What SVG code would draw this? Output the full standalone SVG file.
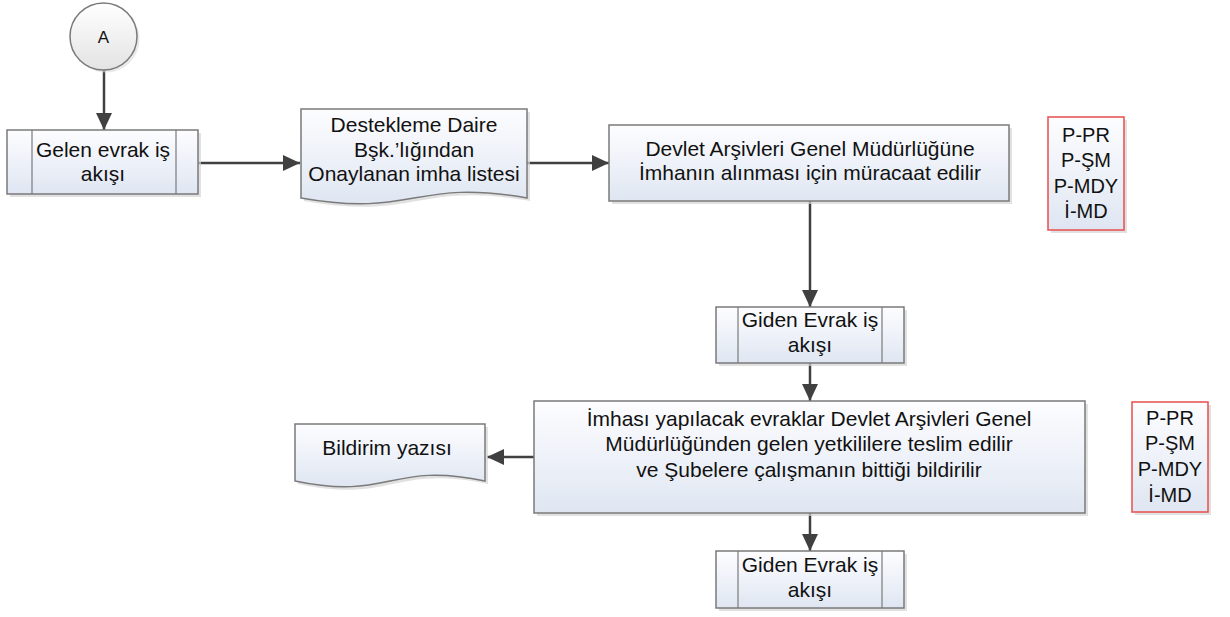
<svg xmlns="http://www.w3.org/2000/svg" width="1230" height="617" viewBox="0 0 1230 617">
<defs>
<linearGradient id="g" x1="0" y1="0" x2="0" y2="1">
<stop offset="0" stop-color="#fdfdff"/>
<stop offset="1" stop-color="#dfe6f2"/>
</linearGradient>
<linearGradient id="gc" x1="0" y1="0" x2="0" y2="1">
<stop offset="0" stop-color="#ffffff"/>
<stop offset="1" stop-color="#e3e3e3"/>
</linearGradient>
<marker id="ah" markerUnits="userSpaceOnUse" markerWidth="18" markerHeight="16" refX="17" refY="8" orient="auto">
<path d="M0,0 L17,8 L0,16 Z" fill="#404040"/>
</marker>
</defs>
<style>
.box{fill:url(#g);stroke:#7a7a7a;stroke-width:1.5}
.sh{fill:#d4d4d4;opacity:0.7}
.red{fill:url(#g);stroke:#e85858;stroke-width:1.6}
.t{font-family:"Liberation Sans",Arial,sans-serif;font-size:21px;fill:#111;text-anchor:middle}
.tr{font-family:"Liberation Sans",Arial,sans-serif;font-size:20px;fill:#111;text-anchor:middle}
.ln{fill:none;stroke:#404040;stroke-width:2.5}
.in{stroke:#7a7a7a;stroke-width:1.2}
</style>
<rect width="1230" height="617" fill="#ffffff"/>

<g id="connectors">
<path class="ln" d="M104,70 V130" marker-end="url(#ah)"/>
<path class="ln" d="M198,163 H300" marker-end="url(#ah)"/>
<path class="ln" d="M527,163 H609" marker-end="url(#ah)"/>
<path class="ln" d="M810,201 V307" marker-end="url(#ah)"/>
<path class="ln" d="M810,363 V401" marker-end="url(#ah)"/>
<path class="ln" d="M534,457 H487" marker-end="url(#ah)"/>
<path class="ln" d="M810,513 V551" marker-end="url(#ah)"/>
</g>

<g id="nodeA">
<circle cx="106" cy="39" r="33.5" fill="#dcdcdc" opacity="0.6"/>
<circle cx="103.5" cy="36.5" r="33.5" fill="url(#gc)" stroke="#7a7a7a" stroke-width="1.5"/>
<text x="103.5" y="43" font-family="Liberation Sans, Arial, sans-serif" font-size="17" fill="#111" text-anchor="middle">A</text>
</g>

<g id="gelen">
<rect class="sh" x="10" y="133" width="191" height="64"/>
<rect class="box" x="7" y="130" width="191" height="64"/>
<line class="in" x1="32" y1="130" x2="32" y2="194"/>
<line class="in" x1="176" y1="130" x2="176" y2="194"/>
<text class="t" x="103" y="157">Gelen evrak iş</text>
<text class="t" x="103" y="181">akışı</text>
</g>

<g id="onay">
<path class="sh" transform="translate(3,3)" d="M301,109 H527 V198 C414,178 414,218 301,198 Z"/>
<path class="box" d="M301,109 H527 V198 C414,178 414,218 301,198 Z"/>
<text class="t" x="414" y="132">Destekleme Daire</text>
<text class="t" x="414" y="157">Bşk.’lığından</text>
<text class="t" x="414" y="181">Onaylanan imha listesi</text>
</g>

<g id="devlet">
<rect class="sh" x="612" y="128" width="400" height="76"/>
<rect class="box" x="609" y="125" width="400" height="76"/>
<text class="t" x="810" y="156">Devlet Arşivleri Genel Müdürlüğüne</text>
<text class="t" x="810" y="180">İmhanın alınması için müracaat edilir</text>
</g>

<g id="kod1">
<rect class="sh" x="1051" y="120" width="76" height="113"/>
<rect class="red" x="1048" y="117" width="76" height="113"/>
<text class="tr" x="1086" y="142">P-PR</text>
<text class="tr" x="1086" y="167">P-ŞM</text>
<text class="tr" x="1086" y="193">P-MDY</text>
<text class="tr" x="1086" y="218">İ-MD</text>
</g>

<g id="giden1">
<rect class="sh" x="719" y="310" width="188" height="56"/>
<rect class="box" x="716" y="307" width="188" height="56"/>
<line class="in" x1="738" y1="307" x2="738" y2="363"/>
<line class="in" x1="882" y1="307" x2="882" y2="363"/>
<text class="t" x="810" y="327">Giden Evrak iş</text>
<text class="t" x="810" y="352">akışı</text>
</g>

<g id="imha">
<rect class="sh" x="537" y="404" width="551" height="112"/>
<rect class="box" x="534" y="401" width="551" height="112"/>
<text class="t" x="809" y="426">İmhası yapılacak evraklar Devlet Arşivleri Genel</text>
<text class="t" x="809" y="451">Müdürlüğünden gelen yetkililere teslim edilir</text>
<text class="t" x="809" y="477">ve Şubelere çalışmanın bittiği bildirilir</text>
</g>

<g id="kod2">
<rect class="sh" x="1135" y="405" width="76" height="110"/>
<rect class="red" x="1132" y="402" width="76" height="110"/>
<text class="tr" x="1170" y="425">P-PR</text>
<text class="tr" x="1170" y="450">P-ŞM</text>
<text class="tr" x="1170" y="476">P-MDY</text>
<text class="tr" x="1170" y="502">İ-MD</text>
</g>

<g id="bildirim">
<path class="sh" transform="translate(3,3)" d="M295,424 H485 V481 C390,461 390,501 295,481 Z"/>
<path class="box" d="M295,424 H485 V481 C390,461 390,501 295,481 Z"/>
<text class="t" x="387" y="455">Bildirim yazısı</text>
</g>

<g id="giden2">
<rect class="sh" x="719" y="554" width="188" height="57"/>
<rect class="box" x="716" y="551" width="188" height="57"/>
<line class="in" x1="738" y1="551" x2="738" y2="608"/>
<line class="in" x1="882" y1="551" x2="882" y2="608"/>
<text class="t" x="810" y="572">Giden Evrak iş</text>
<text class="t" x="810" y="597">akışı</text>
</g>
</svg>
